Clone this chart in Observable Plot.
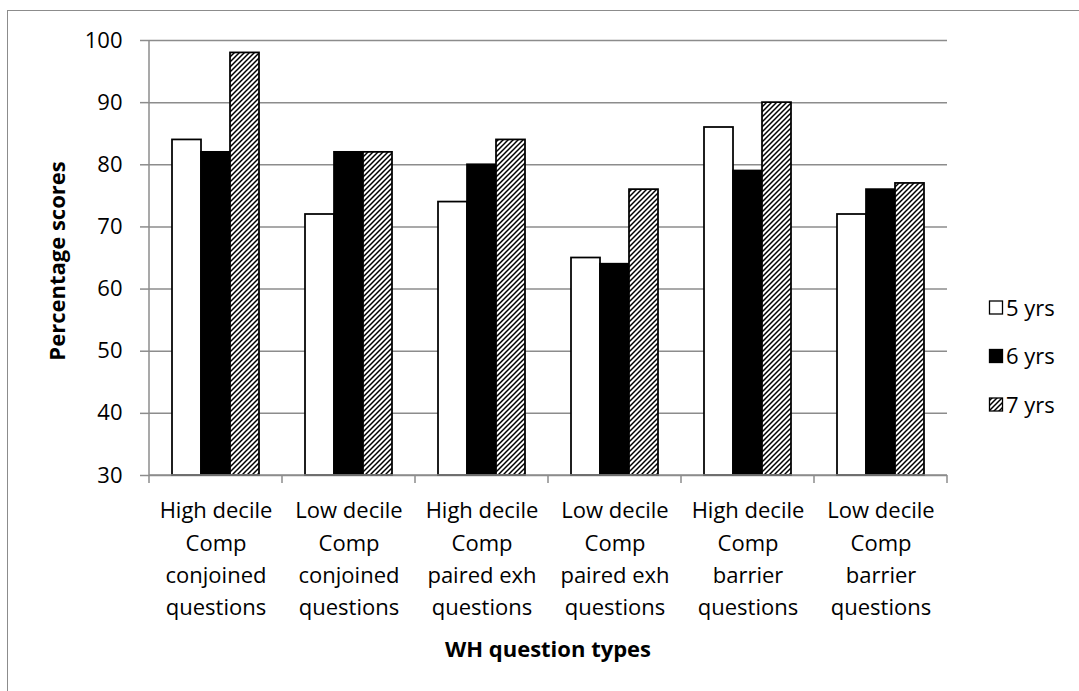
<!DOCTYPE html>
<html>
<head>
<meta charset="utf-8">
<script src="https://cdn.jsdelivr.net/npm/d3@7"></script>
<script src="https://cdn.jsdelivr.net/npm/@observablehq/plot@0.6"></script>
<style>
  html, body { margin: 0; padding: 0; background: #fff; }
  #wrap { position: relative; width: 1079px; height: 691px; overflow: hidden; background: #fff; }
  #chart { position: absolute; left: 0; top: 0; }
  #chart svg { background: transparent !important; }
  #border { position: absolute; left: 7px; top: 10px; width: 1200px; height: 800px; border: 1.5px solid #8c8c8c; box-sizing: border-box; pointer-events: none; }
  #overlay { position: absolute; left: 0; top: 0; pointer-events: none; font-family: "Open Sans", sans-serif; }
</style>
</head>
<body>
<div id="wrap">
  <div id="chart"></div>
  <svg id="overlay" width="1079" height="691"></svg>
  <div id="border"></div>
</div>
<script>
// ---- data ----
const categories = [
  "High decile\nComp\nconjoined\nquestions",
  "Low decile\nComp\nconjoined\nquestions",
  "High decile\nComp\npaired exh\nquestions",
  "Low decile\nComp\npaired exh\nquestions",
  "High decile\nComp\nbarrier\nquestions",
  "Low decile\nComp\nbarrier\nquestions"
];
const series = ["5 yrs", "6 yrs", "7 yrs"];
const values5 = [84, 72, 74, 65, 86, 72];
const values6 = [82, 82, 80, 64, 79, 76];
const values7 = [98, 82, 84, 76, 90, 77];
const yTicks = [30, 40, 50, 60, 70, 80, 90, 100];
const fills = ["white", "black", "url(#hatch7)"];
const xTitle = "WH question types";
const yTitle = "Percentage scores";

const seriesValues = [values5, values6, values7];
const rows = categories.flatMap((c, i) =>
  seriesValues.map((v, j) => ({category: c, series: series[j], value: v[i]}))
);

const GRID = "#8c8c8c";
const FONT = '"Open Sans", sans-serif';

// axis lines and category boundary ticks, drawn once through the plot's scales
class AxisLines extends Plot.Mark {
  constructor() { super(undefined, {}, {facet: "super"}); }
  render(index, scales) {
    const {fx, y} = scales;
    const yb = y(yTicks[0]);
    const yt = y(yTicks[yTicks.length - 1]);
    const edges = categories.map(c => fx(c));
    edges.push(fx(categories[categories.length - 1]) + fx.bandwidth());
    const g = d3.create("svg:g").attr("stroke", GRID).attr("stroke-width", 1.5).attr("fill", "none");
    g.append("line").attr("x1", edges[0]).attr("x2", edges[edges.length - 1]).attr("y1", yb).attr("y2", yb);
    g.append("line").attr("x1", edges[0]).attr("x2", edges[0]).attr("y1", yt).attr("y2", yb);
    g.selectAll("line.tk").data(edges).join("line").attr("class", "tk")
      .attr("x1", d => d).attr("x2", d => d).attr("y1", yb).attr("y2", yb + 8);
    return g.node();
  }
}

const chart = Plot.plot({
  width: 1079,
  height: 691,
  marginLeft: 147,
  marginRight: 130,
  marginTop: 40,
  marginBottom: 216,
  style: {fontFamily: FONT, fontSize: "22px", color: "black", background: "transparent"},
  fx: {domain: categories, padding: 0},
  x: {domain: series, paddingInner: 0, paddingOuter: 0.73, axis: null},
  y: {domain: [yTicks[0], yTicks[yTicks.length - 1]]},
  color: {type: "ordinal", domain: series, range: fills},
  marks: [
    Plot.gridY(yTicks, {stroke: GRID, strokeOpacity: 1, strokeWidth: 1.5}),
    Plot.barY(rows, {
      fx: "category", x: "series", y1: yTicks[0], y2: "value",
      fill: "series", stroke: "black", strokeWidth: 1.75
    }),
    new AxisLines(),
    Plot.axisY(yTicks, {anchor: "left", tickSize: 9, tickPadding: 18, stroke: GRID, strokeWidth: 1.5, fill: "black", fontSize: 22, label: null}),
    Plot.axisFx({anchor: "bottom", tickSize: 0, tickPadding: 20, lineHeight: 1.47, fontSize: 22, fill: "black", label: null})
  ]
});
document.getElementById("chart").appendChild(chart);

// overlay: pattern, legend and titles
const ov = d3.select("#overlay");
const pat = ov.append("defs").append("pattern")
  .attr("id", "hatch7").attr("patternUnits", "userSpaceOnUse").attr("width", 5).attr("height", 5);
pat.append("rect").attr("width", 5).attr("height", 5).attr("fill", "white");
pat.append("path").attr("d", "M-1,1 L1,-1 M0,5 L5,0 M4,6 L6,4").attr("stroke", "black").attr("stroke-width", 1.5);

const legendCenters = [307.5, 356, 404.5];
series.forEach((s, i) => {
  const cy = legendCenters[i];
  ov.append("rect").attr("x", 989.5).attr("y", cy - 6.5).attr("width", 13).attr("height", 13)
    .attr("fill", fills[i]).attr("stroke", "black").attr("stroke-width", 1.3);
  ov.append("text").attr("x", 1006).attr("y", cy + 8).attr("font-size", 22).attr("fill", "black").text(s);
});

ov.append("text").attr("x", 548).attr("y", 657).attr("text-anchor", "middle")
  .attr("font-size", 22).attr("font-weight", "bold").attr("fill", "black").text(xTitle);
ov.append("text").attr("transform", "translate(65,261) rotate(-90)").attr("text-anchor", "middle")
  .attr("font-size", 22).attr("font-weight", "bold").attr("fill", "black").text(yTitle);
</script>
</body>
</html>
